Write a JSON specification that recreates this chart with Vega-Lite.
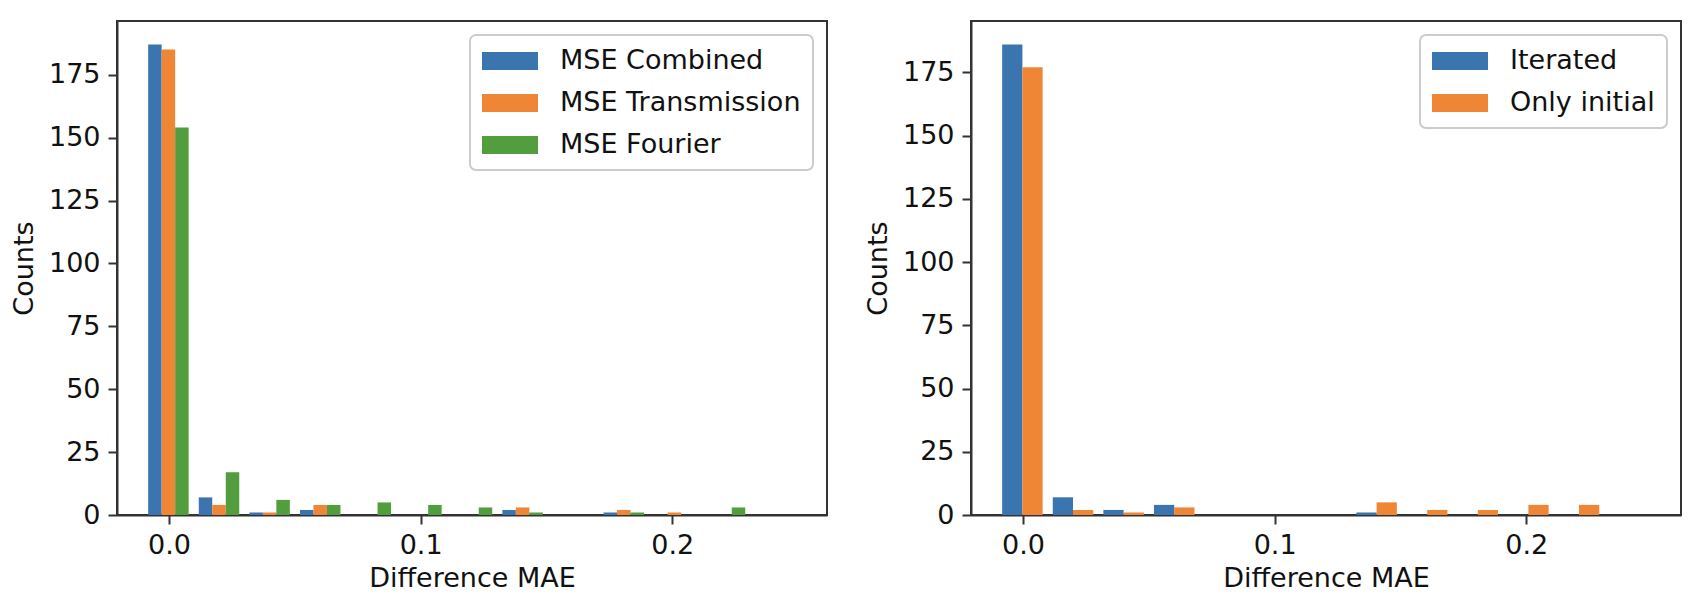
{
  "$schema": "https://vega.github.io/schema/vega-lite/v6.json",
  "background": "white",
  "padding": {"left": 9, "top": 20, "right": 5, "bottom": 5},
  "spacing": 35,
  "datasets": {
    "left": [
      {"mae": -0.0004, "series": "MSE Combined", "count": 187},
      {"mae": 0.0197, "series": "MSE Combined", "count": 7},
      {"mae": 0.0398, "series": "MSE Combined", "count": 1},
      {"mae": 0.0599, "series": "MSE Combined", "count": 2},
      {"mae": 0.0800, "series": "MSE Combined", "count": 0},
      {"mae": 0.1002, "series": "MSE Combined", "count": 0},
      {"mae": 0.1203, "series": "MSE Combined", "count": 0},
      {"mae": 0.1404, "series": "MSE Combined", "count": 2},
      {"mae": 0.1605, "series": "MSE Combined", "count": 0},
      {"mae": 0.1806, "series": "MSE Combined", "count": 1},
      {"mae": 0.2007, "series": "MSE Combined", "count": 0},
      {"mae": 0.2208, "series": "MSE Combined", "count": 0},
      {"mae": 0.2409, "series": "MSE Combined", "count": 0},
      {"mae": -0.0004, "series": "MSE Transmission", "count": 185},
      {"mae": 0.0197, "series": "MSE Transmission", "count": 4},
      {"mae": 0.0398, "series": "MSE Transmission", "count": 1},
      {"mae": 0.0599, "series": "MSE Transmission", "count": 4},
      {"mae": 0.0800, "series": "MSE Transmission", "count": 0},
      {"mae": 0.1002, "series": "MSE Transmission", "count": 0},
      {"mae": 0.1203, "series": "MSE Transmission", "count": 0},
      {"mae": 0.1404, "series": "MSE Transmission", "count": 3},
      {"mae": 0.1605, "series": "MSE Transmission", "count": 0},
      {"mae": 0.1806, "series": "MSE Transmission", "count": 2},
      {"mae": 0.2007, "series": "MSE Transmission", "count": 1},
      {"mae": 0.2208, "series": "MSE Transmission", "count": 0},
      {"mae": 0.2409, "series": "MSE Transmission", "count": 0},
      {"mae": -0.0004, "series": "MSE Fourier", "count": 154},
      {"mae": 0.0197, "series": "MSE Fourier", "count": 17},
      {"mae": 0.0398, "series": "MSE Fourier", "count": 6},
      {"mae": 0.0599, "series": "MSE Fourier", "count": 4},
      {"mae": 0.0800, "series": "MSE Fourier", "count": 5},
      {"mae": 0.1002, "series": "MSE Fourier", "count": 4},
      {"mae": 0.1203, "series": "MSE Fourier", "count": 3},
      {"mae": 0.1404, "series": "MSE Fourier", "count": 1},
      {"mae": 0.1605, "series": "MSE Fourier", "count": 0},
      {"mae": 0.1806, "series": "MSE Fourier", "count": 1},
      {"mae": 0.2007, "series": "MSE Fourier", "count": 0},
      {"mae": 0.2208, "series": "MSE Fourier", "count": 3},
      {"mae": 0.2409, "series": "MSE Fourier", "count": 0}
    ],
    "right": [
      {"mae": -0.0004, "series": "Iterated", "count": 186},
      {"mae": 0.0197, "series": "Iterated", "count": 7},
      {"mae": 0.0398, "series": "Iterated", "count": 2},
      {"mae": 0.0599, "series": "Iterated", "count": 4},
      {"mae": 0.0800, "series": "Iterated", "count": 0},
      {"mae": 0.1002, "series": "Iterated", "count": 0},
      {"mae": 0.1203, "series": "Iterated", "count": 0},
      {"mae": 0.1404, "series": "Iterated", "count": 1},
      {"mae": 0.1605, "series": "Iterated", "count": 0},
      {"mae": 0.1806, "series": "Iterated", "count": 0},
      {"mae": 0.2007, "series": "Iterated", "count": 0},
      {"mae": 0.2208, "series": "Iterated", "count": 0},
      {"mae": 0.2409, "series": "Iterated", "count": 0},
      {"mae": -0.0004, "series": "Only initial", "count": 177},
      {"mae": 0.0197, "series": "Only initial", "count": 2},
      {"mae": 0.0398, "series": "Only initial", "count": 1},
      {"mae": 0.0599, "series": "Only initial", "count": 3},
      {"mae": 0.0800, "series": "Only initial", "count": 0},
      {"mae": 0.1002, "series": "Only initial", "count": 0},
      {"mae": 0.1203, "series": "Only initial", "count": 0},
      {"mae": 0.1404, "series": "Only initial", "count": 5},
      {"mae": 0.1605, "series": "Only initial", "count": 2},
      {"mae": 0.1806, "series": "Only initial", "count": 2},
      {"mae": 0.2007, "series": "Only initial", "count": 4},
      {"mae": 0.2208, "series": "Only initial", "count": 4},
      {"mae": 0.2409, "series": "Only initial", "count": 0}
    ]
  },
  "config": {
    "font": "DejaVu Sans",
    "view": {"stroke": "#333333", "strokeWidth": 2},
    "axis": {
      "grid": false,
      "domainColor": "#333333",
      "domainWidth": 2,
      "tickColor": "#333333",
      "tickWidth": 2,
      "tickSize": 9,
      "labelFont": "DejaVu Sans",
      "labelFontSize": 27,
      "labelColor": "#111111",
      "labelPadding": 8,
      "titleFont": "DejaVu Sans",
      "titleFontSize": 27,
      "titleFontWeight": "normal",
      "titleColor": "#111111"
    },
    "axisY": {"titlePadding": 10},
    "axisX": {"titlePadding": 7},
    "legend": {
      "orient": "top-right",
      "offset": 14,
      "fillColor": "rgba(255,255,255,0.8)",
      "strokeColor": "#cccccc",
      "strokeWidth": 2,
      "cornerRadius": 6,
      "padding": 12,
      "labelFont": "DejaVu Sans",
      "labelFontSize": 27,
      "labelColor": "#111111",
      "labelLimit": 500,
      "labelOffset": 36,
      "symbolOffset": 14,
      "symbolType": "M-2,-0.6429L2,-0.6429L2,0.6429L-2,0.6429Z",
      "symbolSize": 784,
      "symbolStrokeWidth": 0,
      "symbolOpacity": 1,
      "rowPadding": 15
    }
  },
  "resolve": {"scale": {"color": "independent", "x": "independent", "y": "independent"}},
  "hconcat": [
    {
      "width": 710,
      "height": 494,
      "data": {"name": "left"},
      "layer": [
        {
          "transform": [{"filter": {"field": "series", "equal": "MSE Combined"}}],
          "mark": {"type": "bar"},
          "encoding": {
            "x": {"field": "mae", "type": "ordinal", "scale": {"paddingInner": 0.73333, "paddingOuter": 0.88267, "align": 0.34896}, "axis": null},
            "y": {"field": "count", "type": "quantitative", "scale": {"domain": [0, 196.35], "nice": false}, "axis": {"values": [0, 25, 50, 75, 100, 125, 150, 175], "title": "Counts"}},
            "color": {
              "field": "series", "type": "nominal",
              "scale": {"domain": ["MSE Combined", "MSE Transmission", "MSE Fourier"], "range": ["#3b75af", "#ef8636", "#529e3f"]},
              "legend": {"title": null, "symbolType": "M-2,-0.6429L2,-0.6429L2,0.6429L-2,0.6429Z"}
            }
          }
        },
        {
          "transform": [{"filter": {"field": "series", "equal": "MSE Transmission"}}],
          "mark": {"type": "bar"},
          "encoding": {
            "x": {"field": "mae", "type": "ordinal", "scale": {"paddingInner": 0.73333, "paddingOuter": 0.88267, "align": 0.50003}, "axis": null},
            "y": {"field": "count", "type": "quantitative", "scale": {"domain": [0, 196.35], "nice": false}, "axis": {"values": [0, 25, 50, 75, 100, 125, 150, 175], "title": "Counts"}},
            "color": {
              "field": "series", "type": "nominal",
              "scale": {"domain": ["MSE Combined", "MSE Transmission", "MSE Fourier"], "range": ["#3b75af", "#ef8636", "#529e3f"]},
              "legend": {"title": null, "symbolType": "M-2,-0.6429L2,-0.6429L2,0.6429L-2,0.6429Z"}
            }
          }
        },
        {
          "transform": [{"filter": {"field": "series", "equal": "MSE Fourier"}}],
          "mark": {"type": "bar"},
          "encoding": {
            "x": {"field": "mae", "type": "ordinal", "scale": {"paddingInner": 0.73333, "paddingOuter": 0.88267, "align": 0.65109}, "axis": null},
            "y": {"field": "count", "type": "quantitative", "scale": {"domain": [0, 196.35], "nice": false}, "axis": {"values": [0, 25, 50, 75, 100, 125, 150, 175], "title": "Counts"}},
            "color": {
              "field": "series", "type": "nominal",
              "scale": {"domain": ["MSE Combined", "MSE Transmission", "MSE Fourier"], "range": ["#3b75af", "#ef8636", "#529e3f"]},
              "legend": {"title": null, "symbolType": "M-2,-0.6429L2,-0.6429L2,0.6429L-2,0.6429Z"}
            }
          }
        },
        {
          "mark": {"type": "point", "opacity": 0},
          "encoding": {
            "x": {"field": "mae", "type": "quantitative", "scale": {"domain": [-0.02067, 0.26153], "nice": false, "zero": false}, "axis": {"values": [0, 0.1, 0.2], "format": ".1f", "title": "Difference MAE"}}
          }
        }
      ],
      "resolve": {"scale": {"x": "independent"}, "axis": {"x": "independent"}}
    },
    {
      "width": 710,
      "height": 494,
      "data": {"name": "right"},
      "layer": [
        {
          "transform": [{"filter": {"field": "series", "equal": "Iterated"}}],
          "mark": {"type": "bar"},
          "encoding": {
            "x": {"field": "mae", "type": "ordinal", "scale": {"paddingInner": 0.6, "paddingOuter": 0.816, "align": 0.37749}, "axis": null},
            "y": {"field": "count", "type": "quantitative", "scale": {"domain": [0, 195.3], "nice": false}, "axis": {"values": [0, 25, 50, 75, 100, 125, 150, 175], "title": "Counts"}},
            "color": {
              "field": "series", "type": "nominal",
              "scale": {"domain": ["Iterated", "Only initial"], "range": ["#3b75af", "#ef8636"]},
              "legend": {"title": null, "symbolType": "M-2,-0.6429L2,-0.6429L2,0.6429L-2,0.6429Z"}
            }
          }
        },
        {
          "transform": [{"filter": {"field": "series", "equal": "Only initial"}}],
          "mark": {"type": "bar"},
          "encoding": {
            "x": {"field": "mae", "type": "ordinal", "scale": {"paddingInner": 0.6, "paddingOuter": 0.816, "align": 0.62261}, "axis": null},
            "y": {"field": "count", "type": "quantitative", "scale": {"domain": [0, 195.3], "nice": false}, "axis": {"values": [0, 25, 50, 75, 100, 125, 150, 175], "title": "Counts"}},
            "color": {
              "field": "series", "type": "nominal",
              "scale": {"domain": ["Iterated", "Only initial"], "range": ["#3b75af", "#ef8636"]},
              "legend": {"title": null, "symbolType": "M-2,-0.6429L2,-0.6429L2,0.6429L-2,0.6429Z"}
            }
          }
        },
        {
          "mark": {"type": "point", "opacity": 0},
          "encoding": {
            "x": {"field": "mae", "type": "quantitative", "scale": {"domain": [-0.02067, 0.26153], "nice": false, "zero": false}, "axis": {"values": [0, 0.1, 0.2], "format": ".1f", "title": "Difference MAE"}}
          }
        }
      ],
      "resolve": {"scale": {"x": "independent"}, "axis": {"x": "independent"}}
    }
  ]
}
